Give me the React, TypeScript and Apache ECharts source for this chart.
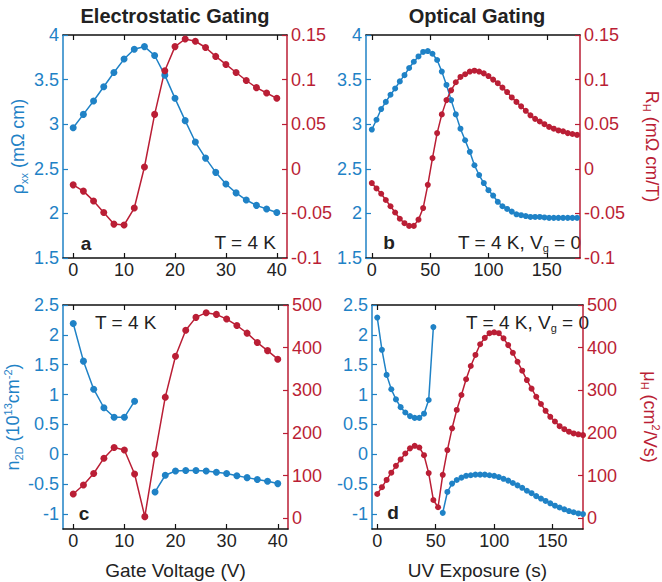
import React, { useEffect, useRef } from 'react';
import * as echarts from 'echarts';

const BLUE = '#1f82c6';
const RED = '#ba1e35';
const FONT = '"Liberation Sans", Arial, Helvetica, sans-serif';

// ---------- Panel a: electrostatic gating, rho_xx and R_H ----------
const gateVoltage = [0, 2, 4, 6, 8, 10, 12, 14, 16, 18, 20, 22, 24, 26, 28, 30, 32, 34, 36, 38, 40];
const rhoA = [2.96, 3.11, 3.26, 3.42, 3.58, 3.73, 3.84, 3.87, 3.77, 3.55, 3.29, 3.04, 2.80, 2.62, 2.46, 2.33, 2.23, 2.15, 2.09, 2.05, 2.01];
const rhA = [-0.018, -0.025, -0.036, -0.049, -0.062, -0.063, -0.044, 0.002, 0.061, 0.110, 0.137, 0.1455, 0.143, 0.136, 0.126, 0.117, 0.108, 0.099, 0.091, 0.085, 0.079];

// ---------- Panel b: optical gating, rho_xx and R_H ----------
const uvTime = [0, 4, 8, 12, 16, 20, 24, 28, 32, 36, 40, 44, 48, 52, 56, 60, 64, 68, 72, 76, 80, 84, 88, 92, 96, 100, 104, 108, 112, 116, 120, 124, 128, 132, 136, 140, 144, 148, 152, 156, 160, 164, 168, 172, 176];
const rhoB = [2.94, 3.05, 3.17, 3.25, 3.33, 3.40, 3.48, 3.55, 3.63, 3.70, 3.76, 3.81, 3.82, 3.79, 3.72, 3.59, 3.44, 3.27, 3.11, 2.95, 2.82, 2.69, 2.54, 2.43, 2.34, 2.26, 2.20, 2.13, 2.08, 2.05, 2.02, 1.99, 1.98, 1.97, 1.96, 1.96, 1.96, 1.955, 1.95, 1.95, 1.95, 1.95, 1.95, 1.95, 1.95];
const rhB = [-0.016, -0.022, -0.028, -0.035, -0.042, -0.049, -0.056, -0.061, -0.064, -0.064, -0.057, -0.044, -0.018, 0.012, 0.040, 0.061, 0.077, 0.088, 0.097, 0.103, 0.106, 0.109, 0.110, 0.109, 0.107, 0.104, 0.100, 0.096, 0.091, 0.086, 0.080, 0.075, 0.070, 0.065, 0.060, 0.056, 0.053, 0.050, 0.047, 0.045, 0.043, 0.042, 0.040, 0.039, 0.038];

// ---------- Panel c: electrostatic gating, n_2D and mu_H ----------
const gateV1 = [0, 2, 4, 6, 8, 10, 12];
const nC1 = [2.19, 1.56, 1.09, 0.78, 0.62, 0.62, 0.89];
const gateV2 = [16, 18, 20, 22, 24, 26, 28, 30, 32, 34, 36, 38, 40];
const nC2 = [-0.63, -0.35, -0.28, -0.27, -0.27, -0.28, -0.30, -0.32, -0.36, -0.39, -0.42, -0.45, -0.49];
const muC = [57, 78, 105, 141, 166, 160, 104, 4, 150, 284, 380, 441, 471, 482, 478, 467, 452, 434, 412, 393, 373];

// ---------- Panel d: optical gating, n_2D and mu_H ----------
const uvT1 = [0, 4, 8, 12, 16, 20, 24, 28, 32, 36, 40, 44, 48];
const nD1 = [2.29, 1.75, 1.33, 1.09, 0.92, 0.79, 0.70, 0.64, 0.61, 0.61, 0.68, 0.91, 2.13];
const uvT2 = [56, 60, 64, 68, 72, 76, 80, 84, 88, 92, 96, 100, 104, 108, 112, 116, 120, 124, 128, 132, 136, 140, 144, 148, 152, 156, 160, 164, 168, 172, 176];
const nD2 = [-0.98, -0.63, -0.49, -0.43, -0.39, -0.36, -0.35, -0.34, -0.34, -0.34, -0.35, -0.36, -0.38, -0.41, -0.44, -0.48, -0.52, -0.56, -0.61, -0.65, -0.70, -0.74, -0.78, -0.82, -0.86, -0.89, -0.92, -0.95, -0.97, -0.99, -1.00];
const muD = [57, 73, 90, 107, 123, 138, 152, 164, 170, 166, 148, 106, 43, 26, 102, 160, 211, 254, 289, 326, 357, 383, 408, 423, 434, 436, 434, 422, 406, 388, 367, 346, 324, 304, 285, 268, 252, 238, 227, 216, 209, 203, 199, 197, 195];

// ---------- tick values ----------
const gateTicks = [0, 10, 20, 30, 40];
const uvTicks = [0, 50, 100, 150];
const rhoTicks = [1.5, 2, 2.5, 3, 3.5, 4];
const rhTicks = [-0.1, -0.05, 0, 0.05, 0.1, 0.15];
const nTicks = [-1, -0.5, 0, 0.5, 1, 1.5, 2, 2.5];
const muTicks = [0, 100, 200, 300, 400, 500];

const pairs = (xs: number[], ys: number[]) => xs.map((x, i) => [x, ys[i]]);

const mkX = (gridIndex: number, min: number, max: number, ticks: number[], name?: string) => [
  {
    type: 'value', gridIndex, min, max, position: 'bottom',
    name: name || '', nameLocation: 'middle', nameGap: 32,
    nameTextStyle: { fontSize: 19, color: '#222', fontFamily: FONT },
    axisLine: { show: true, onZero: false, lineStyle: { color: '#111', width: 1.5 } },
    axisTick: { show: true, inside: true, length: 5, customValues: ticks, lineStyle: { color: '#111', width: 1.2 } },
    axisLabel: { show: true, customValues: ticks, fontSize: 18, color: '#222', fontFamily: FONT, margin: 3 },
    splitLine: { show: false },
  },
  {
    type: 'value', gridIndex, min, max, position: 'top',
    axisLine: { show: true, onZero: false, lineStyle: { color: '#111', width: 1.5 } },
    axisTick: { show: true, inside: true, length: 5, customValues: ticks, lineStyle: { color: '#111', width: 1.2 } },
    axisLabel: { show: false },
    splitLine: { show: false },
  },
];

const richStyles = (color: string) => ({
  a: { fontSize: 18, color, fontFamily: FONT, lineHeight: 22 },
  b: { fontSize: 11, color, fontFamily: FONT, lineHeight: 10, verticalAlign: 'bottom' },
  c: { fontSize: 11, color, fontFamily: FONT, lineHeight: 10, verticalAlign: 'top' },
});

const mkY = (gridIndex: number, position: 'left' | 'right', min: number, max: number, ticks: number[], color: string, name?: string, nameGap?: number) => ({
  type: 'value', gridIndex, min, max, position,
  name: name || '', nameLocation: 'middle', nameGap: nameGap || 30,
  nameRotate: position === 'left' ? 90 : -90,
  nameTextStyle: { color, fontSize: 18, fontFamily: FONT, rich: richStyles(color) },
  axisLine: { show: true, onZero: false, lineStyle: { color, width: 1.5 } },
  axisTick: { show: true, inside: true, length: 5, customValues: ticks, lineStyle: { color, width: 1.2 } },
  axisLabel: { show: true, customValues: ticks, fontSize: 18, color, fontFamily: FONT, margin: 4 },
  splitLine: { show: false },
});

const line = (xi: number, yi: number, data: number[][], color: string, size: number) => ({
  type: 'line', xAxisIndex: xi, yAxisIndex: yi, data,
  symbol: 'circle', symbolSize: size, showSymbol: true,
  lineStyle: { color, width: 1.5 }, itemStyle: { color },
  emphasis: { disabled: true },
});

const txt = (x: number, y: number, text: string, align: string, bold = false, size = 19) => ({
  type: 'text', x, y,
  style: {
    text, fill: '#222', font: `${bold ? 'bold ' : ''}${size}px ${FONT}`,
    align, verticalAlign: 'middle',
    rich: {
      s: { fontSize: 11, fill: '#222', fontFamily: FONT, lineHeight: 10, verticalAlign: 'bottom' },
      n: { fontSize: size, fill: '#222', fontFamily: FONT, lineHeight: 22, fontWeight: bold ? 'bold' : 'normal' },
    },
  },
});

const option: any = {
  animation: false,
  backgroundColor: '#fff',
  grid: [
    { left: 63, top: 35, width: 224, height: 223 },
    { left: 366, top: 35, width: 222, height: 223 },
    { left: 63, top: 305, width: 225, height: 224 },
    { left: 372, top: 305, width: 218, height: 224 },
  ],
  xAxis: [
    ...mkX(0, -2, 42, gateTicks),
    ...mkX(1, -5, 178.5, uvTicks),
    ...mkX(2, -2, 42, gateTicks, 'Gate Voltage (V)'),
    ...mkX(3, -4.5, 176, uvTicks, 'UV Exposure (s)'),
  ],
  yAxis: [
    mkY(0, 'left', 1.5, 4, rhoTicks, BLUE, '{a|ρ}{b|xx}{a| (mΩ cm)}', 34),
    mkY(0, 'right', -0.1, 0.15, rhTicks, RED),
    mkY(1, 'left', 1.5, 4, rhoTicks, BLUE),
    mkY(1, 'right', -0.1, 0.15, rhTicks, RED, '{a|R}{b|H}{a| (mΩ cm/T)}', 61),
    mkY(2, 'left', -1.25, 2.5, nTicks, BLUE, '{a|n}{b|2D}{a| (10}{c|13}{a|cm}{c|-2}{a|)}', 34),
    mkY(2, 'right', -25, 500, muTicks, RED),
    mkY(3, 'left', -1.25, 2.5, nTicks, BLUE),
    mkY(3, 'right', -25, 500, muTicks, RED, '{a|μ}{b|H}{a| (cm}{c|2}{a|/Vs)}', 56),
  ],
  series: [
    line(0, 0, pairs(gateVoltage, rhoA), BLUE, 7),
    line(0, 1, pairs(gateVoltage, rhA), RED, 7),
    line(2, 2, pairs(uvTime, rhoB), BLUE, 6),
    line(2, 3, pairs(uvTime, rhB), RED, 6),
    line(4, 4, pairs(gateV1, nC1), BLUE, 7),
    line(4, 4, pairs(gateV2, nC2), BLUE, 7),
    line(4, 5, pairs(gateVoltage, muC), RED, 7),
    line(6, 6, pairs(uvT1, nD1), BLUE, 6),
    line(6, 6, pairs(uvT2, nD2), BLUE, 6),
    line(6, 7, pairs(uvTime, muD), RED, 6),
  ],
  graphic: [
    txt(175, 16, 'Electrostatic Gating', 'center', true, 20),
    txt(477, 16, 'Optical Gating', 'center', true, 20),
    txt(86, 243, 'a', 'center', true, 19),
    txt(276, 242, 'T = 4 K', 'right'),
    txt(389, 242, 'b', 'center', true, 19),
    txt(581, 242, '{n|T = 4 K, V}{s|g}{n| = 0}', 'right'),
    txt(95, 322, 'T = 4 K', 'left'),
    txt(84, 513, 'c', 'center', true, 19),
    txt(589, 322, '{n|T = 4 K, V}{s|g}{n| = 0}', 'right'),
    txt(393, 512, 'd', 'center', true, 19),
  ],
};

export default function App() {
  const ref = useRef<HTMLDivElement>(null);
  useEffect(() => {
    document.body.style.margin = '0';
    const chart = echarts.init(ref.current as HTMLDivElement, null, { renderer: 'svg' });
    chart.setOption(option);
    return () => chart.dispose();
  }, []);
  return <div ref={ref} style={{ width: 662, height: 582 }} />;
}
